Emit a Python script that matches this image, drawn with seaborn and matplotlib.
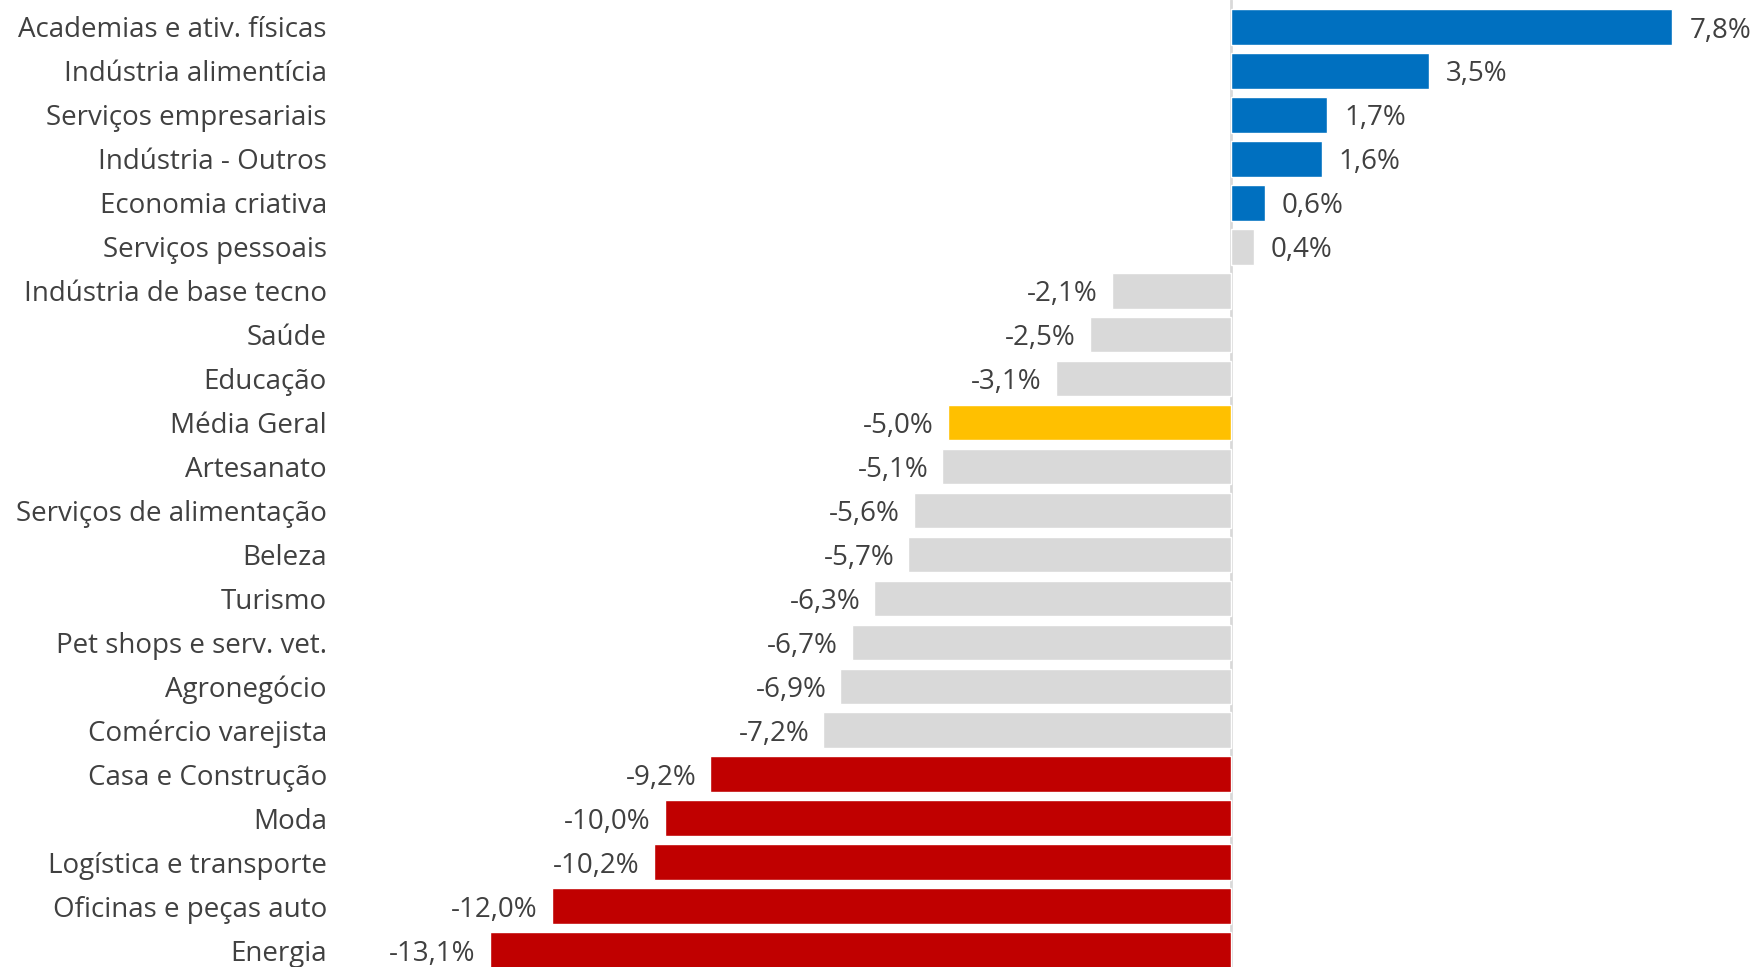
import pandas as pd
import seaborn as sns
import matplotlib.pyplot as plt

# sectors, top to bottom
categories = [
    "Academias e ativ. físicas", "Indústria alimentícia", "Serviços empresariais",
    "Indústria - Outros", "Economia criativa", "Serviços pessoais",
    "Indústria de base tecno", "Saúde", "Educação", "Média Geral", "Artesanato",
    "Serviços de alimentação", "Beleza", "Turismo", "Pet shops e serv. vet.",
    "Agronegócio", "Comércio varejista", "Casa e Construção", "Moda",
    "Logística e transporte", "Oficinas e peças auto", "Energia",
]
values = [7.8, 3.5, 1.7, 1.6, 0.6, 0.4, -2.1, -2.5, -3.1, -5.0, -5.1,
          -5.6, -5.7, -6.3, -6.7, -6.9, -7.2, -9.2, -10.0, -10.2, -12.0, -13.1]
groups = ["up"] * 5 + ["mid"] * 4 + ["avg"] + ["mid"] * 7 + ["down"] * 5

palette = {"up": "#0070C0", "mid": "#D9D9D9", "avg": "#FFC000", "down": "#C00000"}

df = pd.DataFrame({"setor": categories, "var": values, "grupo": groups})

sns.set_style("white")
plt.rcParams["font.family"] = ["Open Sans", "DejaVu Sans"]

fig = plt.figure(figsize=(17.54, 9.67), dpi=100)
ax = fig.add_axes([340 / 1754, 0, 1414 / 1754, 1])

sns.barplot(data=df, x="var", y="setor", hue="grupo", palette=palette,
            orient="h", width=0.81, dodge=False, legend=False,
            saturation=1, ax=ax)

ax.axvline(0, color="#D9D9D9", lw=2, zorder=0)
ax.set_xlim(-(1231 - 340) / 56.6, (1754 - 1231) / 56.6)
ax.set_ylim(len(categories) - 1 + 0.386, -0.614)

fs = 20
for i, v in enumerate(values):
    txt = f"{v:.1f}%".replace(".", ",")
    if v >= 0:
        ax.text(v + 0.3, i + 0.08, txt, ha="left", va="center",
                fontsize=fs, color="#404040")
    else:
        ax.text(v - 0.25, i + 0.08, txt, ha="right", va="center",
                fontsize=fs, color="#404040")

ax.set_xlabel("")
ax.set_ylabel("")
ax.set_xticks([])
ax.tick_params(axis="y", length=0, pad=9.4, labelsize=fs, labelcolor="#404040")
sns.despine(ax=ax, left=True, bottom=True)

fig.savefig("out.png", dpi=100)
